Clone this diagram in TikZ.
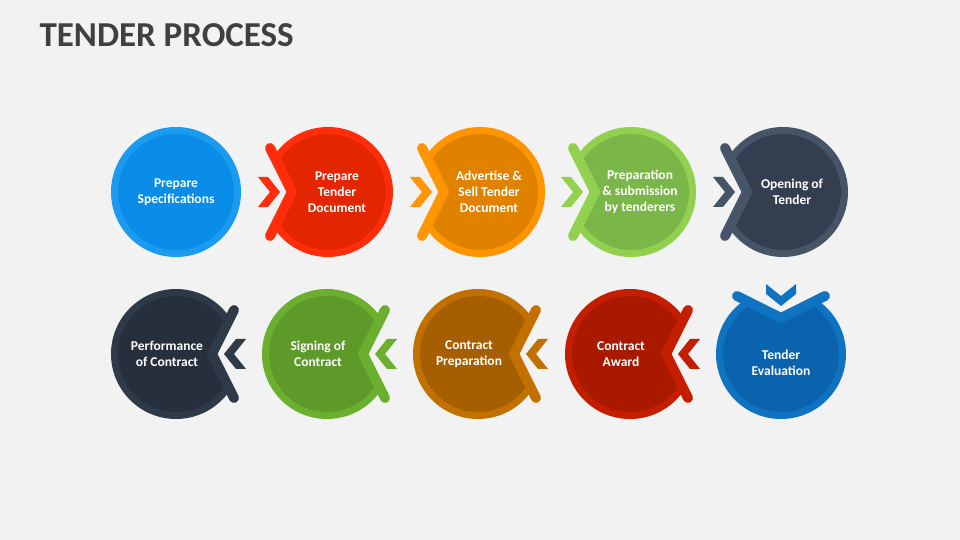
\documentclass[tikz,border=0pt]{standalone}
\usepackage{fontspec}
\setmainfont{Carlito}
\definecolor{bgc}{HTML}{F2F2F2}
\definecolor{titlec}{HTML}{404040}
% ring / fill colours of the steps
\definecolor{specR}{HTML}{1A9BF0}\definecolor{specF}{HTML}{0A8DE8}
\definecolor{docR}{HTML}{FF2D0A}\definecolor{docF}{HTML}{E42600}
\definecolor{advR}{HTML}{FF9500}\definecolor{advF}{HTML}{E08100}
\definecolor{subR}{HTML}{92D050}\definecolor{subF}{HTML}{7AB648}
\definecolor{opnR}{HTML}{465468}\definecolor{opnF}{HTML}{333F50}
\definecolor{evaR}{HTML}{0F73C2}\definecolor{evaF}{HTML}{0A63AC}
\definecolor{awdR}{HTML}{C41D00}\definecolor{awdF}{HTML}{A81900}
\definecolor{prpR}{HTML}{C27000}\definecolor{prpF}{HTML}{A65F00}
\definecolor{sigR}{HTML}{6BAF2F}\definecolor{sigF}{HTML}{5E9A29}
\definecolor{perR}{HTML}{2F3A48}\definecolor{perF}{HTML}{262F3C}
\tikzset{
  steptext/.style={text=white, font=\bfseries\fontsize{13.5}{16}\selectfont, align=center},
  notchline/.style={line width=10pt, line cap=round, line join=round},
}
% #1 name, #2 cx, #3 cy, #4 rotation, #5 colour prefix, #6 text
\newcommand{\tstep}[6]{
  \begin{scope}[shift={(#2,#3)}, rotate=#4]
    \fill[#5R] (0,0) circle (65);
    \fill[#5F] (0,0) circle (58);
    \fill[bgc] (-36,0) -- (-58,45) -- (-75,45) -- (-75,-45) -- (-58,-45) -- cycle;
    \draw[notchline, #5R] (-58,-44) -- (-36,0) -- (-58,44);
    \fill[#5R] (-70,-15) -- (-60,-15) -- (-48,0) -- (-60,15) -- (-70,15) -- (-58,0) -- cycle;
    \node[steptext] (#1) at (9,0) {#6};
  \end{scope}
}
\begin{document}
\begin{tikzpicture}[x=1pt, y=1pt]
\fill[bgc] (0,0) rectangle (960,540);
\node[anchor=west, text=titlec, font=\bfseries\fontsize{35}{35}\selectfont] (title) at (36,505) {TENDER PROCESS};

% first row
\fill[specR] (176,348) circle (65);
\fill[specF] (176,348) circle (58);
\node[steptext] (spec) at (176,348) {Prepare\\Specifications};
\tstep{doc}{328}{348}{0}{doc}{Prepare\\Tender\\Document}
\tstep{adv}{480}{348}{0}{adv}{Advertise \&\\Sell Tender\\Document}
\tstep{sub}{631}{348}{0}{sub}{Preparation\\\& submission\\by tenderers}
\tstep{opn}{783}{348}{0}{opn}{Opening of\\Tender}

% second row
\tstep{eva}{781}{186}{-90}{eva}{Tender\\Evaluation}
\tstep{awd}{630}{186}{180}{awd}{Contract\\Award}
\tstep{prp}{478}{186}{180}{prp}{Contract\\Preparation}
\tstep{sig}{327}{186}{180}{sig}{Signing of\\Contract}
\tstep{per}{176}{186}{180}{per}{Performance\\of Contract}
\end{tikzpicture}
\end{document}
